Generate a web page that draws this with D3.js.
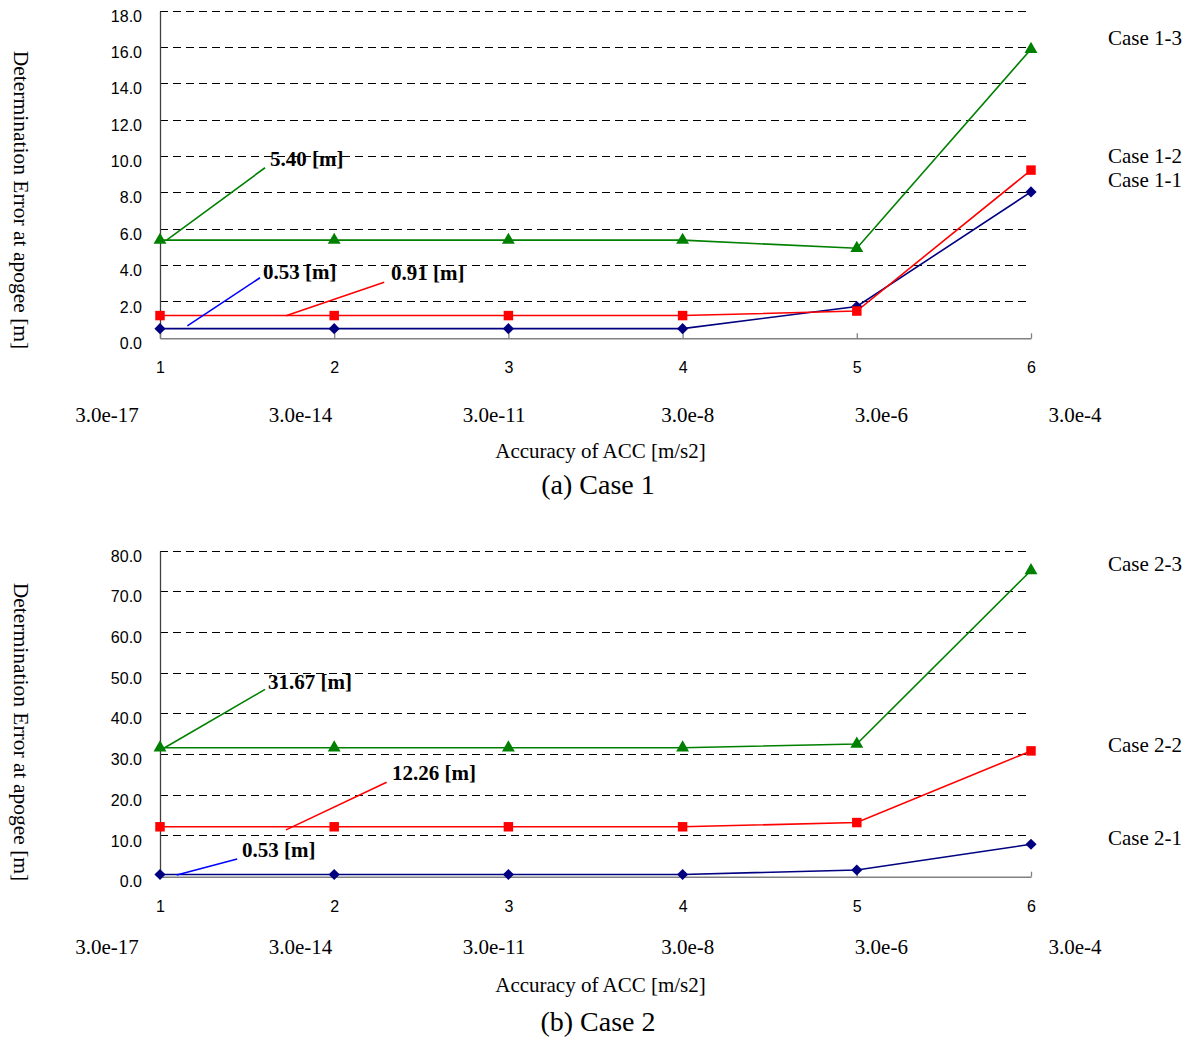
<!DOCTYPE html>
<html>
<head>
<meta charset="utf-8">
<script src="https://cdn.jsdelivr.net/npm/d3@7"></script>
<style>
  html, body { margin: 0; padding: 0; background: #fff; }
  svg { display: block; }
</style>
</head>
<body>
<svg id="chart" width="1193" height="1038"></svg>
<script>
// ---------------- DATA ----------------
const categories = [1, 2, 3, 4, 5, 6];
const accLabels = ["3.0e-17", "3.0e-14", "3.0e-11", "3.0e-8", "3.0e-6", "3.0e-4"];
const xTitle = "Accuracy of ACC [m/s2]";
const yTitle = "Determination Error at apogee [m]";

const yTicks1 = [0, 2, 4, 6, 8, 10, 12, 14, 16, 18];
const yTicks2 = [0, 10, 20, 30, 40, 50, 60, 70, 80];

const case1_1 = [0.53, 0.53, 0.53, 0.53, 1.75, 8.05];
const case1_2 = [1.25, 1.25, 1.25, 1.25, 1.5, 9.25];
const case1_3 = [5.40, 5.40, 5.40, 5.40, 4.95, 15.9];

const case2_1 = [0.53, 0.53, 0.53, 0.53, 1.65, 7.96];
const case2_2 = [12.26, 12.26, 12.26, 12.26, 13.3, 30.9];
const case2_3 = [31.67, 31.67, 31.67, 31.67, 32.6, 75.2];

const names1 = ["Case 1-1", "Case 1-2", "Case 1-3"];
const names2 = ["Case 2-1", "Case 2-2", "Case 2-3"];
const captions = ["(a) Case 1", "(b) Case 2"];

// annotations: text, series index, leader line (x1,y1)->(x2,y2) and text anchor (tx,ty) in data units
const notes1 = [
  { text: "5.40 [m]", s: 2, x1: 1.038, y1: 5.4, x2: 1.603, y2: 9.38, tx: 1.631, ty: 9.48 },
  { text: "0.53 [m]", s: 0, x1: 1.157, y1: 0.68, x2: 1.574, y2: 3.33, tx: 1.591, ty: 3.25 },
  { text: "0.91 [m]", s: 1, x1: 1.723, y1: 1.24, x2: 2.287, y2: 3.08, tx: 2.326, ty: 3.21 }
];
const notes2 = [
  { text: "31.67 [m]", s: 2, x1: 1.019, y1: 31.5, x2: 1.603, y2: 46.0, tx: 1.62, ty: 46.0 },
  { text: "12.26 [m]", s: 1, x1: 1.723, y1: 11.5, x2: 2.301, y2: 23.2, tx: 2.332, ty: 23.75 },
  { text: "0.53 [m]", s: 0, x1: 1.096, y1: 0.41, x2: 1.443, y2: 4.35, tx: 1.471, ty: 4.91 }
];

// ---------------- STYLE / LAYOUT ----------------
const colors = ["#000080", "#ff0000", "#008000"];
const noteColors = ["#0000ff", "#ff0000", "#008000"];
const serif = "'Liberation Serif', 'Times New Roman', serif";
const sans = "'Liberation Sans', Arial, sans-serif";

const panels = [
  { series: [case1_1, case1_2, case1_3], names: names1, ticks: yTicks1, yMax: 18,
    top: 11, bottom: 338.3, notes: notes1, caption: captions[0],
    legendY: [187, 163, 45], yTitleY: 200,
    rowCat: 373.5, rowAcc: 421.5, rowTitle: 457.5, rowCap: 494 },
  { series: [case2_1, case2_2, case2_3], names: names2, ticks: yTicks2, yMax: 80,
    top: 551, bottom: 876.7, notes: notes2, caption: captions[1],
    legendY: [845, 752, 571], yTitleY: 732,
    rowCat: 912, rowAcc: 954, rowTitle: 992, rowCap: 1031 }
];

const svg = d3.select("#chart");
const x = d3.scaleLinear().domain([1, 6]).range([160, 1031]);
const xAcc = d3.scalePoint().domain(accLabels).range([107, 1075]);

const diamond = d3.symbol().type(d3.symbolSquare).size(62)();
const square = d3.symbol().type(d3.symbolSquare).size(90)();
const triangle = d3.symbol().type(d3.symbolTriangle).size(72)();
const markerPaths = [diamond, square, triangle];
const markerRot = [45, 0, 0];

panels.forEach(p => {
  const g = svg.append("g");
  const y = d3.scaleLinear().domain([0, p.yMax]).range([p.bottom, p.top]);

  // gridlines
  g.selectAll("line.grid").data(p.ticks.filter(t => t > 0)).enter()
    .append("line")
    .attr("x1", x(1)).attr("x2", x(6) - 2)
    .attr("y1", d => y(d)).attr("y2", d => y(d))
    .attr("stroke", "#000").attr("stroke-width", 1)
    .attr("stroke-dasharray", "8,5")
    .attr("shape-rendering", "crispEdges");

  // y axis
  const yAxis = d3.axisLeft(y).tickValues(p.ticks).tickFormat(d3.format(".1f")).tickSize(0).tickPadding(18);
  const ya = g.append("g").attr("transform", `translate(${x(1)},0)`).call(yAxis);
  ya.select(".domain").attr("stroke", "#404040").attr("stroke-width", 1.3);
  ya.selectAll("text").attr("font-family", sans).attr("font-size", 16)
    .attr("fill", "#000").attr("dy", "0.32em").attr("transform", "translate(0,5)");

  // x axis
  const xAxis = d3.axisBottom(x).tickValues(categories).tickFormat(d3.format("d"))
    .tickSizeInner(-5).tickSizeOuter(0).tickPadding(0);
  const xa = g.append("g").attr("transform", `translate(0,${p.bottom})`).call(xAxis);
  xa.select(".domain").attr("stroke", "#808080").attr("stroke-width", 1.5);
  xa.selectAll(".tick line").attr("stroke", "#808080").attr("stroke-width", 1.3);
  xa.selectAll("text").attr("font-family", sans).attr("font-size", 16).attr("fill", "#000")
    .attr("dy", null).attr("y", p.rowCat - p.bottom);

  // secondary label row
  g.selectAll("text.acc").data(accLabels).enter().append("text")
    .attr("x", d => xAcc(d)).attr("y", p.rowAcc)
    .attr("text-anchor", "middle").attr("font-family", serif).attr("font-size", 21)
    .text(d => d);

  g.append("text").attr("x", 600.5).attr("y", p.rowTitle).attr("text-anchor", "middle")
    .attr("font-family", serif).attr("font-size", 21).text(xTitle);
  g.append("text").attr("x", 598).attr("y", p.rowCap).attr("text-anchor", "middle")
    .attr("font-family", serif).attr("font-size", 28).text(p.caption);

  g.append("text").attr("transform", `translate(14,${p.yTitleY}) rotate(90)`)
    .attr("text-anchor", "middle").attr("font-family", serif).attr("font-size", 21.5)
    .text(yTitle);

  // series lines & markers
  const line = d3.line().x((d, i) => x(categories[i])).y(d => y(d));
  p.series.forEach((s, si) => {
    g.append("path").datum(s).attr("d", line)
      .attr("fill", "none").attr("stroke", colors[si]).attr("stroke-width", 1.6);
  });
  p.series.forEach((s, si) => {
    g.selectAll(null).data(s).enter().append("path")
      .attr("d", markerPaths[si])
      .attr("transform", (d, i) => `translate(${x(categories[i])},${y(d)}) rotate(${markerRot[si]})`)
      .attr("fill", colors[si]);
  });

  // legend labels
  p.names.forEach((n, i) => {
    g.append("text").attr("x", 1108).attr("y", p.legendY[i])
      .attr("font-family", serif).attr("font-size", 21).text(n);
  });

  // annotations
  p.notes.forEach(n => {
    g.append("line")
      .attr("x1", x(n.x1)).attr("y1", y(n.y1)).attr("x2", x(n.x2)).attr("y2", y(n.y2))
      .attr("stroke", noteColors[n.s]).attr("stroke-width", 1.6);
    g.append("text").attr("x", x(n.tx)).attr("y", y(n.ty))
      .attr("font-family", serif).attr("font-weight", "bold").attr("font-size", 21)
      .text(n.text);
  });
});
</script>
</body>
</html>
